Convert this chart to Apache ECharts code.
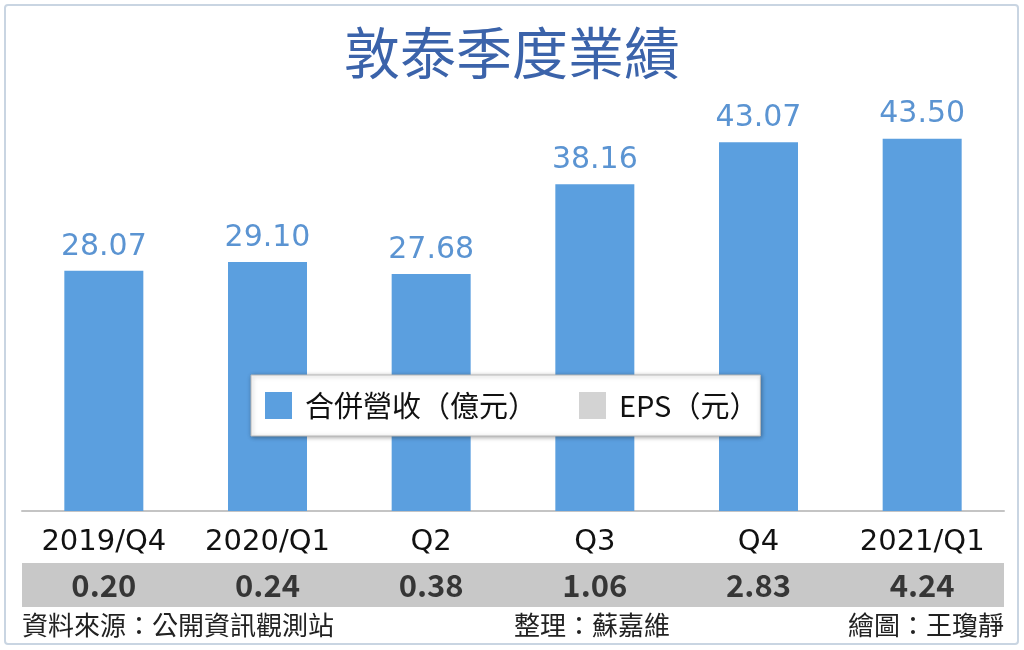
<!DOCTYPE html>
<html>
<head>
<meta charset="utf-8">
<script src="https://cdn.jsdelivr.net/npm/echarts@6/dist/echarts.min.js"></script>
<style>
  html, body { margin: 0; padding: 0; background: #fff; }
  #main { width: 1024px; height: 650px; }
</style>
</head>
<body>
<div id="main"></div>
<script>
// 季度
var quarters = ['2019/Q4', '2020/Q1', 'Q2', 'Q3', 'Q4', '2021/Q1'];
// 合併營收(億元)
var revenue = [28.07, 29.10, 27.68, 38.16, 43.07, 43.50];
// EPS(元)
var eps = [0.20, 0.24, 0.38, 1.06, 2.83, 4.24];

var fontCJK = '"Noto Sans CJK TC", "Noto Sans", sans-serif';
var fontNum = '"DejaVu Sans", "Noto Sans CJK TC", sans-serif';

window.addEventListener('load', function(){
    initChart();
})

function initChart(){
    var myChart = echarts.init(document.getElementById('main'));
    var option = {
        backgroundColor: '#fff',
        animation: false,
        textStyle: { fontFamily: fontCJK },
        title: {
            text: '敦泰季度業績',
            left: 'center',
            top: 20,
            textStyle: {
                fontFamily: fontCJK,
                fontSize: 56,
                fontWeight: 'normal',
                color: '#3b63aa'
            }
        },
        legend: {
            data: ['合併營收(億元)', 'EPS(元)'],
            left: 251,
            top: 375,
            padding: [16, 2, 16, 14],
            itemGap: 42,
            itemWidth: 27,
            itemHeight: 27,
            icon: 'rect',
            backgroundColor: '#fff',
            borderColor: '#b8b8b8',
            borderWidth: 1,
            shadowColor: 'rgba(0,0,0,0.35)',
            shadowBlur: 4,
            shadowOffsetX: 1,
            shadowOffsetY: 1,
            textStyle: {
                fontFamily: fontCJK,
                fontSize: 29,
                color: '#111',
                padding: [0, 0, 0, 8]
            },
            formatter: function(name){
                return name.replace('(', '（').replace(')', '）');
            }
        },
        grid: [
            { left: 22, right: 20, top: 83, bottom: 139 },
            { left: 22, right: 20, top: 563, height: 44, show: true,
              backgroundColor: '#c8c8c8', borderWidth: 0 }
        ],
        xAxis: [
            {
                gridIndex: 0,
                type: 'category',
                data: quarters,
                axisLine: { lineStyle: { color: '#c4c4c4', width: 2 } },
                axisTick: { alignWithLabel: true, length: 7, lineStyle: { color: '#bdbdbd', width: 1 } },
                axisLabel: {
                    margin: 17,
                    fontFamily: fontNum,
                    fontSize: 29,
                    color: '#111'
                }
            },
            {
                gridIndex: 1,
                type: 'category',
                data: quarters,
                show: false
            }
        ],
        yAxis: [
            { gridIndex: 0, type: 'value', min: 0, max: 50, show: false },
            { gridIndex: 1, type: 'value', min: -1, max: 1, show: false }
        ],
        series: [
            {
                name: '合併營收(億元)',
                type: 'bar',
                xAxisIndex: 0,
                yAxisIndex: 0,
                data: revenue,
                barWidth: 79,
                itemStyle: { color: '#5b9fdf' },
                label: {
                    show: true,
                    position: 'top',
                    distance: 9,
                    fontFamily: fontNum,
                    fontSize: 30,
                    color: '#5b94d2',
                    formatter: function(p){ return p.value.toFixed(2); }
                }
            },
            {
                name: 'EPS(元)',
                type: 'scatter',
                xAxisIndex: 1,
                yAxisIndex: 1,
                symbolSize: 0,
                data: eps.map(function(v, i){ return [i, 0]; }),
                itemStyle: { color: '#c8c8c8' },
                label: {
                    show: true,
                    position: 'inside',
                    fontFamily: fontCJK,
                    fontSize: 31,
                    fontWeight: 'bold',
                    color: '#111',
                    formatter: function(p){ return eps[p.dataIndex].toFixed(2); }
                }
            }
        ],
        graphic: [
            {
                type: 'rect',
                shape: { x: 5, y: 5, width: 1013, height: 639, r: 3 },
                style: { fill: 'none', stroke: '#c9d5e2', lineWidth: 2 },
                silent: true
            },
            {
                type: 'text', left: 22, top: 612,
                style: { text: '資料來源：公開資訊觀測站', font: '26px ' + fontCJK, fill: '#222' }
            },
            {
                type: 'text', left: 514, top: 612,
                style: { text: '整理：蘇嘉維', font: '26px ' + fontCJK, fill: '#222' }
            },
            {
                type: 'text', right: 20, top: 612,
                style: { text: '繪圖：王瓊靜', font: '26px ' + fontCJK, fill: '#222' }
            }
        ]
    };
    myChart.setOption(option);
}
</script>
</body>
</html>
